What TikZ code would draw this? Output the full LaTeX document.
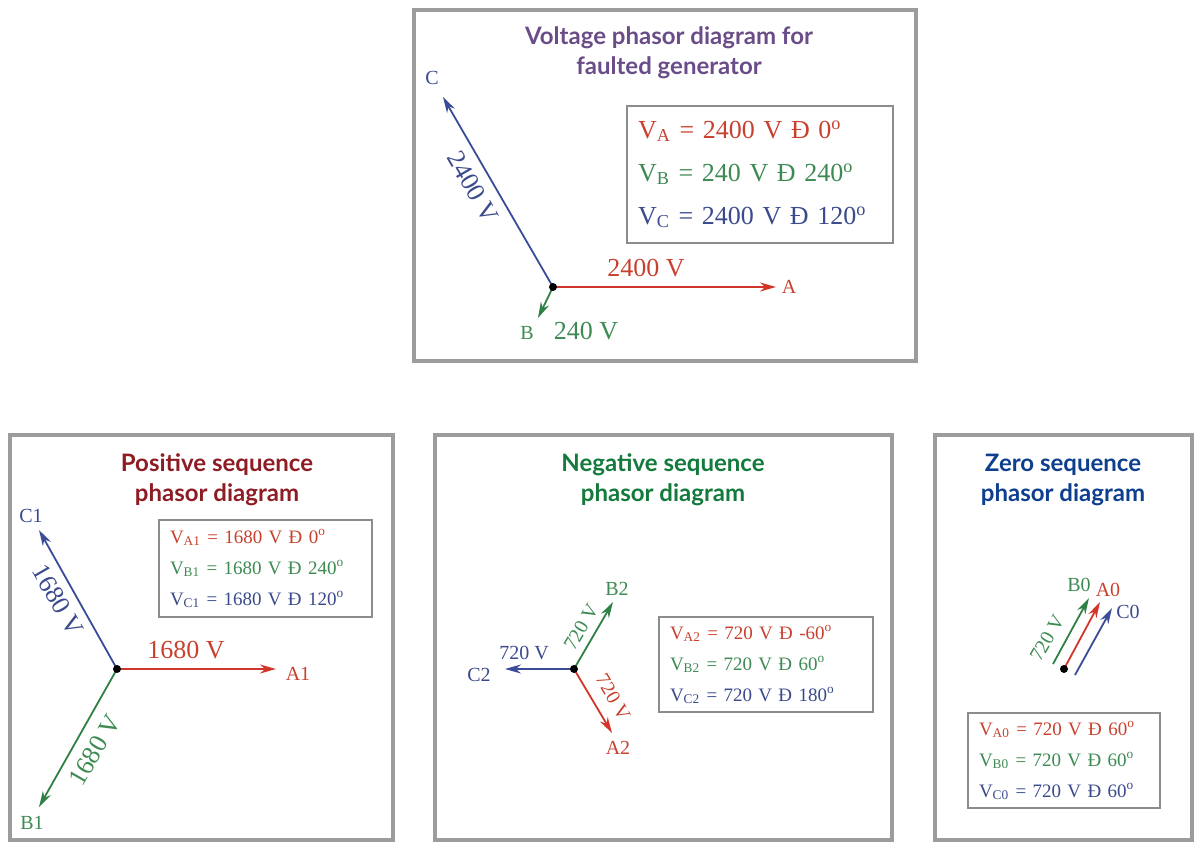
\documentclass[tikz,border=0pt]{standalone}
\usepackage{fontspec}
\setmainfont{Liberation Serif}
\newfontfamily\titlefont{Lato}
\usepackage{xcolor}
\usetikzlibrary{arrows.meta}
\definecolor{framegray}{HTML}{9C9C9C}
\definecolor{boxgray}{HTML}{8C8C8C}
\definecolor{phred}{HTML}{D2352A}
\definecolor{phgreen}{HTML}{2F8045}
\definecolor{phblue}{HTML}{3A4C97}
\definecolor{txred}{HTML}{C8412F}
\definecolor{txgreen}{HTML}{3D8A52}
\definecolor{txblue}{HTML}{3B4A8C}
\definecolor{titlepurple}{HTML}{6A4C88}
\definecolor{titlered}{HTML}{8E1C24}
\definecolor{titlegreen}{HTML}{137A3C}
\definecolor{titleblue}{HTML}{0D3F8E}
\tikzset{
    panel-frame/.style = {draw=framegray, line width=2pt},
    panel-title/.style = {font=\titlefont\bfseries\fontsize{12}{15}\selectfont, align=center},
    value-box/.style = {draw=boxgray, line width=0.75pt, fill=white, align=left, inner xsep=5.5pt, inner ysep=0pt},
    big-values/.style = {value-box, font=\fontsize{13}{21.5}\selectfont},
    small-values/.style = {value-box, font=\fontsize{9.5}{15.5}\selectfont},
    phasor/.style = {line width=0.9pt, -{Stealth[length=8pt, width=4.5pt]}},
    tip-label/.style = {font=\fontsize{10}{12}\selectfont, inner sep=0pt},
    mag-label/.style = {font=\fontsize{13}{15}\selectfont, inner sep=0pt},
    small-mag/.style = {font=\fontsize{10}{12}\selectfont, inner sep=0pt},
    origin-dot/.style = {fill=black},
}

\begin{document}
\begin{tikzpicture}[x=0.5pt, y=-0.5pt]
\useasboundingbox (0,0) rectangle (1200,851);

% faulted generator
\draw[panel-frame] (414,10) rectangle (916,361);
\node[panel-title, text=titlepurple] (fault-title) at (669,53) {Voltage phasor diagram for\\faulted generator};
\coordinate (fO) at (553,287);
\coordinate (fA) at (776,287);
\coordinate (fB) at (538,318);
\coordinate (fC) at (443,97);
\draw[phasor, phred] (fO) -- (fA);
\draw[phasor, phblue] (fO) -- (fC);
\draw[phasor, phgreen] (fO) -- (fB);
\fill[origin-dot] (fO) circle (4);
\node[tip-label, text=txred] (fA-name) at (789,287) {A};
\node[tip-label, text=txblue] (fC-name) at (432,78) {C};
\node[tip-label, text=txgreen] (fB-name) at (527,333) {B};
\node[mag-label, text=txred] (fA-mag) at (646,268) {2400 V};
\node[mag-label, text=txblue, rotate=-60] (fC-mag) at (473,187) {2400 V};
\node[mag-label, text=txgreen] (fB-mag) at (586,331) {240 V};
\node[big-values, text width=122pt, minimum height=68.5pt] (fault-vals) at (760,174.5) {%
\textcolor{txred}{V\textsubscript{A} = 2400 V Đ 0\textsuperscript{o}}\\
\textcolor{txgreen}{V\textsubscript{B} = 240 V Đ 240\textsuperscript{o}}\\
\textcolor{txblue}{V\textsubscript{C} = 2400 V Đ 120\textsuperscript{o}}};

% positive sequence
\draw[panel-frame] (10,435) rectangle (393,840);
\node[panel-title, text=titlered] (pos-title) at (217,480) {Positive sequence\\phasor diagram};
\coordinate (pO) at (117,669);
\coordinate (pA) at (276,669);
\coordinate (pB) at (39,807);
\coordinate (pC) at (39,530);
\draw[phasor, phred] (pO) -- (pA);
\draw[phasor, phblue] (pO) -- (pC);
\draw[phasor, phgreen] (pO) -- (pB);
\fill[origin-dot] (pO) circle (4);
\node[tip-label, text=txred] (pA-name) at (298,674) {A1};
\node[tip-label, text=txblue] (pC-name) at (31,516) {C1};
\node[tip-label, text=txgreen] (pB-name) at (32,823) {B1};
\node[mag-label, text=txred] (pA-mag) at (186,650) {1680 V};
\node[mag-label, text=txblue, rotate=-60] (pC-mag) at (58,600) {1680 V};
\node[mag-label, text=txgreen, rotate=60] (pB-mag) at (95,750) {1680 V};
\node[small-values, text width=95.5pt, minimum height=48.5pt] (pos-vals) at (265.5,568.5) {%
\textcolor{txred}{V\textsubscript{A1} = 1680 V Đ 0\textsuperscript{o}}\\
\textcolor{txgreen}{V\textsubscript{B1} = 1680 V Đ 240\textsuperscript{o}}\\
\textcolor{txblue}{V\textsubscript{C1} = 1680 V Đ 120\textsuperscript{o}}};

% negative sequence
\draw[panel-frame] (435,435) rectangle (892,840);
\node[panel-title, text=titlegreen] (neg-title) at (663,480) {Negative sequence\\phasor diagram};
\coordinate (nO) at (574,669);
\coordinate (nA) at (612,733);
\coordinate (nB) at (613,602);
\coordinate (nC) at (505,669);
\draw[phasor, phred] (nO) -- (nA);
\draw[phasor, phgreen] (nO) -- (nB);
\draw[phasor, phblue] (nO) -- (nC);
\fill[origin-dot] (nO) circle (4);
\node[tip-label, text=txred] (nA-name) at (618,748) {A2};
\node[tip-label, text=txgreen] (nB-name) at (617,589) {B2};
\node[tip-label, text=txblue] (nC-name) at (479,675) {C2};
\node[small-mag, text=txblue] (nC-mag) at (524,653) {720 V};
\node[small-mag, text=txgreen, rotate=60] (nB-mag) at (581,627) {720 V};
\node[small-mag, text=txred, rotate=-60] (nA-mag) at (613,697) {720 V};
\node[small-values, text width=96pt, minimum height=47.5pt] (neg-vals) at (766,664.5) {%
\textcolor{txred}{V\textsubscript{A2} = 720 V Đ -60\textsuperscript{o}}\\
\textcolor{txgreen}{V\textsubscript{B2} = 720 V Đ 60\textsuperscript{o}}\\
\textcolor{txblue}{V\textsubscript{C2} = 720 V Đ 180\textsuperscript{o}}};

% zero sequence
\draw[panel-frame] (935,435) rectangle (1192,840);
\node[panel-title, text=titleblue] (zero-title) at (1063,480) {Zero sequence\\phasor diagram};
\coordinate (zO) at (1064,669);
\coordinate (zB-start) at (1053,664);
\coordinate (zC-start) at (1075,675);
\coordinate (zA) at (1100,602);
\coordinate (zB) at (1089,598);
\coordinate (zC) at (1112,608);
\draw[phasor, phgreen] (zB-start) -- (zB);
\draw[phasor, phred] (zO) -- (zA);
\draw[phasor, phblue] (zC-start) -- (zC);
\fill[origin-dot] (zO) circle (4);
\node[tip-label, text=txgreen] (zB-name) at (1079,585) {B0};
\node[tip-label, text=txred] (zA-name) at (1108,590) {A0};
\node[tip-label, text=txblue] (zC-name) at (1128,612) {C0};
\node[small-mag, text=txgreen, rotate=60] (zB-mag) at (1047,638) {720 V};
\node[small-values, text width=85pt, minimum height=47.5pt] (zero-vals) at (1064,760.5) {%
\textcolor{txred}{V\textsubscript{A0} = 720 V Đ 60\textsuperscript{o}}\\
\textcolor{txgreen}{V\textsubscript{B0} = 720 V Đ 60\textsuperscript{o}}\\
\textcolor{txblue}{V\textsubscript{C0} = 720 V Đ 60\textsuperscript{o}}};
\end{tikzpicture}
\end{document}
